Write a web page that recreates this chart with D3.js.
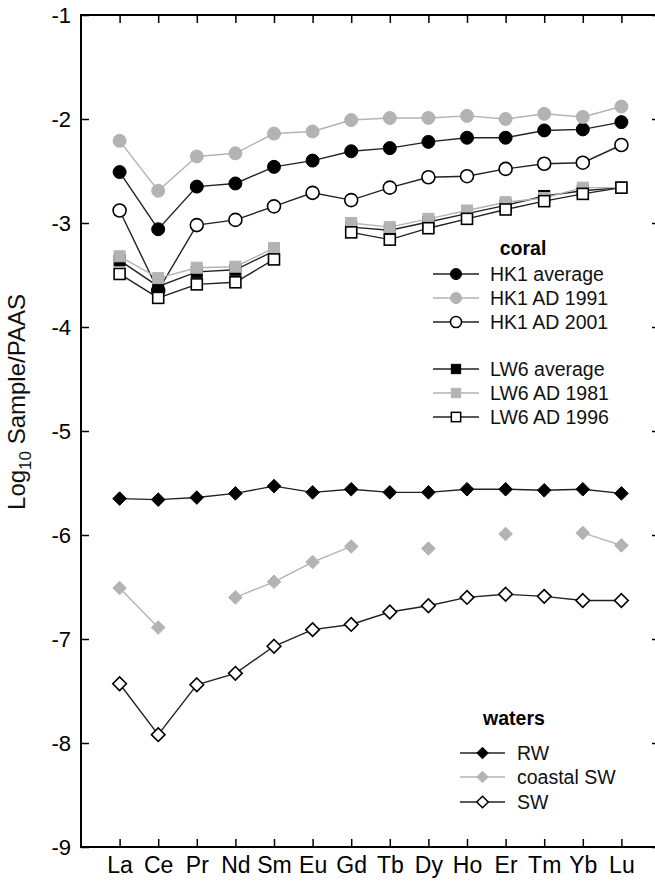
<!DOCTYPE html>
<html>
<head>
<meta charset="utf-8">
<script src="https://cdn.jsdelivr.net/npm/d3@7"></script>
<style>
  body { margin: 0; background: #fff; overflow: hidden; }
  svg { display: block; }
</style>
</head>
<body>
<div id="chart"></div>
<script>
// REE categories and log10 sample/PAAS values
const elements = ['La', 'Ce', 'Pr', 'Nd', 'Sm', 'Eu', 'Gd', 'Tb', 'Dy', 'Ho', 'Er', 'Tm', 'Yb', 'Lu'];

const hk1Average = [-2.51, -3.06, -2.65, -2.62, -2.46, -2.40, -2.31, -2.28, -2.22, -2.18, -2.18, -2.11, -2.10, -2.03];
const hk1AD1991  = [-2.21, -2.69, -2.36, -2.33, -2.14, -2.12, -2.01, -1.99, -1.99, -1.97, -2.00, -1.95, -1.98, -1.88];
const hk1AD2001  = [-2.88, -3.65, -3.02, -2.97, -2.84, -2.71, -2.78, -2.66, -2.56, -2.55, -2.48, -2.43, -2.42, -2.25];

const lw6Average = [-3.36, -3.61, -3.47, -3.45, -3.27, null, -3.04, -3.07, -2.99, -2.91, -2.83, -2.74, -2.69, -2.66];
const lw6AD1981  = [-3.32, -3.53, -3.43, -3.42, -3.24, null, -3.00, -3.04, -2.96, -2.88, -2.80, -2.76, -2.66, -2.66];
const lw6AD1996  = [-3.49, -3.72, -3.59, -3.57, -3.35, null, -3.09, -3.16, -3.05, -2.96, -2.87, -2.79, -2.72, -2.66];

const rw        = [-5.65, -5.66, -5.64, -5.60, -5.53, -5.59, -5.56, -5.59, -5.59, -5.56, -5.56, -5.57, -5.56, -5.60];
const coastalSW = [-6.51, -6.89, null, -6.60, -6.45, -6.26, -6.11, null, -6.13, null, -5.99, null, -5.98, -6.10];
const sw        = [-7.43, -7.92, -7.44, -7.33, -7.07, -6.91, -6.86, -6.74, -6.68, -6.60, -6.57, -6.59, -6.63, -6.63];

const yTicks = [-1, -2, -3, -4, -5, -6, -7, -8, -9];

const width = 655, height = 881;
const plotLeft = 81, plotRight = 660, plotTop = 15, plotBottom = 847;
const black = '#222', gray = '#b3b3b3';
const font = '"Liberation Sans", Arial, sans-serif';

// series styles (drawing order matters for the overlaps)
const coralSeries = [
  { name: 'HK1 average', values: hk1Average, shape: 'circle', line: black, fill: '#000', stroke: '#000' },
  { name: 'HK1 AD 1991', values: hk1AD1991, shape: 'circle', line: gray, fill: gray, stroke: gray },
  { name: 'HK1 AD 2001', values: hk1AD2001, shape: 'circle', line: black, fill: '#fff', stroke: '#000' },
  { name: 'LW6 average', values: lw6Average, shape: 'square', line: black, fill: '#000', stroke: '#000' },
  { name: 'LW6 AD 1981', values: lw6AD1981, shape: 'square', line: gray, fill: gray, stroke: gray },
  { name: 'LW6 AD 1996', values: lw6AD1996, shape: 'square', line: black, fill: '#fff', stroke: '#000' }
];
const waterSeries = [
  { name: 'RW', values: rw, shape: 'diamond', line: black, fill: '#000', stroke: '#000' },
  { name: 'coastal SW', values: coastalSW, shape: 'diamond', line: gray, fill: gray, stroke: gray },
  { name: 'SW', values: sw, shape: 'diamond', line: black, fill: '#fff', stroke: '#000' }
];

const svg = d3.select('#chart').append('svg')
  .attr('width', width)
  .attr('height', height)
  .style('font-family', font);

const x = d3.scalePoint().domain(elements).range([plotLeft, plotRight]).padding(1);
const y = d3.scaleLinear().domain([-9, -1]).range([plotBottom, plotTop]);

// axes, all ticks pointing inward
const styleAxis = g => {
  g.select('.domain').remove();
  g.selectAll('.tick line').attr('stroke', '#000').attr('stroke-width', 1.5);
  g.selectAll('.tick text').attr('fill', '#000');
};

svg.append('g')
  .attr('transform', `translate(${plotLeft},0)`)
  .call(d3.axisLeft(y).tickValues(yTicks).tickSize(-8).tickPadding(10).tickFormat(d => String(d)))
  .attr('font-size', 22).attr('font-family', font)
  .call(styleAxis);

svg.append('g')
  .attr('transform', `translate(${plotRight},0)`)
  .call(d3.axisRight(y).tickValues(yTicks).tickSize(-8).tickFormat(''))
  .call(styleAxis);

svg.append('g')
  .attr('transform', `translate(0,${plotTop})`)
  .call(d3.axisTop(x).tickSize(-8).tickFormat(''))
  .call(styleAxis);

svg.append('g')
  .attr('transform', `translate(0,${plotBottom})`)
  .call(d3.axisBottom(x).tickSize(-8).tickPadding(10))
  .attr('font-size', 23).attr('font-family', font)
  .call(styleAxis);

// frame: left, top and bottom spines (right spine falls outside the picture)
svg.append('path')
  .attr('d', `M${plotRight},${plotTop}H${plotLeft}V${plotBottom}H${plotRight}`)
  .attr('fill', 'none').attr('stroke', '#000').attr('stroke-width', 2);

// y axis title with subscript
const title = svg.append('text')
  .attr('transform', 'translate(25,402) rotate(-90)')
  .attr('text-anchor', 'middle')
  .attr('font-size', 24)
  .attr('fill', '#111');
title.append('tspan').text('Log');
title.append('tspan').attr('font-size', 17).attr('dy', 6).text('10');
title.append('tspan').attr('dy', -6).text(' Sample/PAAS');

function drawMarker(g, shape, cx, cy, k) {
  k = k || 1;
  if (shape === 'circle') {
    return g.append('circle').attr('cx', cx).attr('cy', cy).attr('r', 6.5 * k);
  }
  if (shape === 'square') {
    const h = 5.5 * k;
    return g.append('rect').attr('x', cx - h).attr('y', cy - h).attr('width', 2 * h).attr('height', 2 * h);
  }
  const r = 6.8 * k;
  return g.append('path').attr('d', `M${cx},${cy - r}L${cx + r},${cy}L${cx},${cy + r}L${cx - r},${cy}Z`);
}

const line = d3.line()
  .defined(d => d.v !== null)
  .x(d => x(d.el))
  .y(d => y(d.v));

const plot = svg.append('g');

[...coralSeries, ...waterSeries].forEach(s => {
  const pts = elements.map((el, i) => ({ el, v: s.values[i] }));
  const g = plot.append('g');
  g.append('path')
    .datum(pts)
    .attr('d', line)
    .attr('fill', 'none')
    .attr('stroke', s.line)
    .attr('stroke-width', 1.4);
  pts.filter(d => d.v !== null).forEach(d => {
    drawMarker(g, s.shape, x(d.el), y(d.v))
      .attr('fill', s.fill)
      .attr('stroke', s.stroke)
      .attr('stroke-width', s.fill === '#fff' ? 1.6 : 1);
  });
});

// legends
function legend(header, hx, hy, series, rows, x0, x1, tx) {
  const g = svg.append('g');
  g.append('text')
    .attr('x', hx).attr('y', hy)
    .attr('text-anchor', 'middle')
    .attr('font-size', 19.5)
    .attr('font-weight', 'bold')
    .text(header);
  series.forEach((s, i) => {
    const ly = rows[i];
    g.append('line')
      .attr('x1', x0).attr('x2', x1).attr('y1', ly).attr('y2', ly)
      .attr('stroke', s.line).attr('stroke-width', 1.5);
    drawMarker(g, s.shape, (x0 + x1) / 2, ly, 0.85)
      .attr('fill', s.fill)
      .attr('stroke', s.stroke)
      .attr('stroke-width', s.fill === '#fff' ? 1.5 : 1);
    g.append('text')
      .attr('x', tx).attr('y', ly + 7)
      .attr('font-size', 19.5)
      .attr('fill', '#111')
      .text(s.name);
  });
}

legend('coral', 523, 255, coralSeries, [274, 298, 322, 369, 393, 417], 433, 479, 490);
legend('waters', 514, 725, waterSeries, [753, 777, 802], 460, 505, 517);
</script>
</body>
</html>
